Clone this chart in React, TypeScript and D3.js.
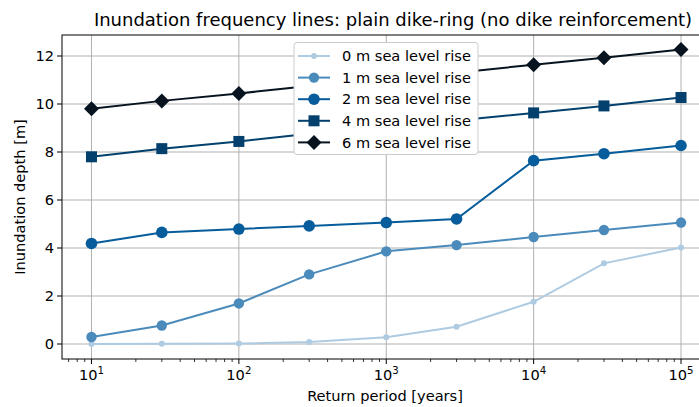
import * as d3 from 'd3';

const returnPeriods = [10, 30, 100, 300, 1000, 3000, 10000, 30000, 100000];
const rise0 = [0.0, 0.01, 0.02, 0.08, 0.28, 0.72, 1.76, 3.36, 4.02];
const rise1 = [0.29, 0.77, 1.69, 2.9, 3.86, 4.12, 4.46, 4.75, 5.06];
const rise2 = [4.19, 4.65, 4.79, 4.92, 5.06, 5.21, 7.64, 7.93, 8.27];
const rise4 = [7.8, 8.14, 8.44, 8.76, 9.04, 9.31, 9.63, 9.92, 10.27];
const rise6 = [9.8, 10.13, 10.44, 10.75, 11.02, 11.3, 11.64, 11.93, 12.27];
const seriesLabels = ['0 m sea level rise', '1 m sea level rise', '2 m sea level rise', '4 m sea level rise', '6 m sea level rise'];
const yTicks = [0, 2, 4, 6, 8, 10, 12];
const xTicks = [10, 100, 1000, 10000, 100000];

const W = 699, H = 407;
const left = 62, right = 710.5, top = 35, bottom = 359;
const font = 'DejaVu Sans, sans-serif';
const fs = 14.6;

const styles = [
  { color: '#afcbe1', marker: 'circle', size: 3 },
  { color: '#4b8bbb', marker: 'circle', size: 5.2 },
  { color: '#075c9b', marker: 'circle', size: 5.8 },
  { color: '#03406e', marker: 'square', size: 11 },
  { color: '#07131f', marker: 'diamond', size: 7.5 },
];

function Marker({ kind, x, y, size, color }: { kind: string; x: number; y: number; size: number; color: string }) {
  if (kind === 'square') return <rect x={x - size / 2} y={y - size / 2} width={size} height={size} fill={color} />;
  if (kind === 'diamond')
    return <path d={`M${x},${y - size}L${x + size},${y}L${x},${y + size}L${x - size},${y}Z`} fill={color} />;
  return <circle cx={x} cy={y} r={size} fill={color} />;
}

export default function App() {
  const allSeries = [rise0, rise1, rise2, rise4, rise6];
  const x = d3.scaleLog().domain([Math.pow(10, 0.8), Math.pow(10, 5.2)]).range([left, right]);
  const y = d3.scaleLinear().domain([-0.625, 12.875]).range([bottom, top]);
  const line = d3.line<number>().x((_, i) => x(returnPeriods[i])).y(d => y(d));

  const minorTicks: number[] = [];
  for (let e = 0; e <= 5; e++) {
    for (let m = 2; m <= 9; m++) {
      const v = m * Math.pow(10, e);
      if (v > x.domain()[0] && v < x.domain()[1]) minorTicks.push(v);
    }
  }

  const legX = 294, legY = 42.5, legW = 184, legH = 112;

  return (
    <div style={{ position: 'fixed', left: 0, top: 0 }}>
      <svg width={W} height={H} style={{ display: 'block', background: '#fff' }} fontFamily={font}>
        <defs>
          <clipPath id="plot">
            <rect x={left} y={top} width={right - left} height={bottom - top} />
          </clipPath>
        </defs>
        {/* grid */}
        {xTicks.map(t => (
          <line key={'gx' + t} x1={x(t)} x2={x(t)} y1={top} y2={bottom} stroke="#b0b0b0" strokeWidth={1} />
        ))}
        {yTicks.map(t => (
          <line key={'gy' + t} x1={left} x2={right} y1={y(t)} y2={y(t)} stroke="#b0b0b0" strokeWidth={1} />
        ))}
        {/* series */}
        <g clipPath="url(#plot)">
          {allSeries.map((s, si) => (
            <g key={si}>
              <path d={line(s) || ''} fill="none" stroke={styles[si].color} strokeWidth={2} />
              {s.map((v, i) => (
                <Marker key={i} kind={styles[si].marker} x={x(returnPeriods[i])} y={y(v)} size={styles[si].size} color={styles[si].color} />
              ))}
            </g>
          ))}
        </g>
        {/* spines */}
        <rect x={left} y={top} width={right - left} height={bottom - top} fill="none" stroke="#000" strokeWidth={1} />
        {/* y ticks */}
        {yTicks.map(t => (
          <g key={'ty' + t}>
            <line x1={left - 5} x2={left} y1={y(t)} y2={y(t)} stroke="#000" />
            <text x={left - 8} y={y(t)} dy="0.36em" textAnchor="end" fontSize={fs}>{t}</text>
          </g>
        ))}
        {/* x ticks */}
        {xTicks.map(t => (
          <g key={'tx' + t}>
            <line x1={x(t)} x2={x(t)} y1={bottom} y2={bottom + 5} stroke="#000" />
            <text x={x(t)} y={bottom + 21} textAnchor="middle" fontSize={fs}>
              10<tspan dy={-6.5} fontSize={10.2}>{Math.round(Math.log10(t))}</tspan>
            </text>
          </g>
        ))}
        {minorTicks.map(t => (
          <line key={'mx' + t} x1={x(t)} x2={x(t)} y1={bottom} y2={bottom + 3} stroke="#000" strokeWidth={0.8} />
        ))}
        {/* labels */}
        <text x={385} y={401} textAnchor="middle" fontSize={fs}>Return period [years]</text>
        <text transform={`translate(25,${(top + bottom) / 2}) rotate(-90)`} textAnchor="middle" fontSize={fs}>Inundation depth [m]</text>
        <text x={393} y={26} textAnchor="middle" fontSize={18}>Inundation frequency lines: plain dike-ring (no dike reinforcement)</text>
        {/* legend */}
        <rect x={legX} y={legY} width={legW} height={legH} rx={3} fill="#fff" stroke="#cccccc" />
        {seriesLabels.map((lab, i) => {
          const ly = legY + 13.5 + i * 21.6;
          const st = styles[i];
          return (
            <g key={lab}>
              <line x1={legX + 4} x2={legX + 36} y1={ly} y2={ly} stroke={st.color} strokeWidth={2} />
              <Marker kind={st.marker} x={legX + 20} y={ly} size={st.size} color={st.color} />
              <text x={legX + 48} y={ly} dy="0.36em" fontSize={fs}>{lab}</text>
            </g>
          );
        })}
      </svg>
    </div>
  );
}
